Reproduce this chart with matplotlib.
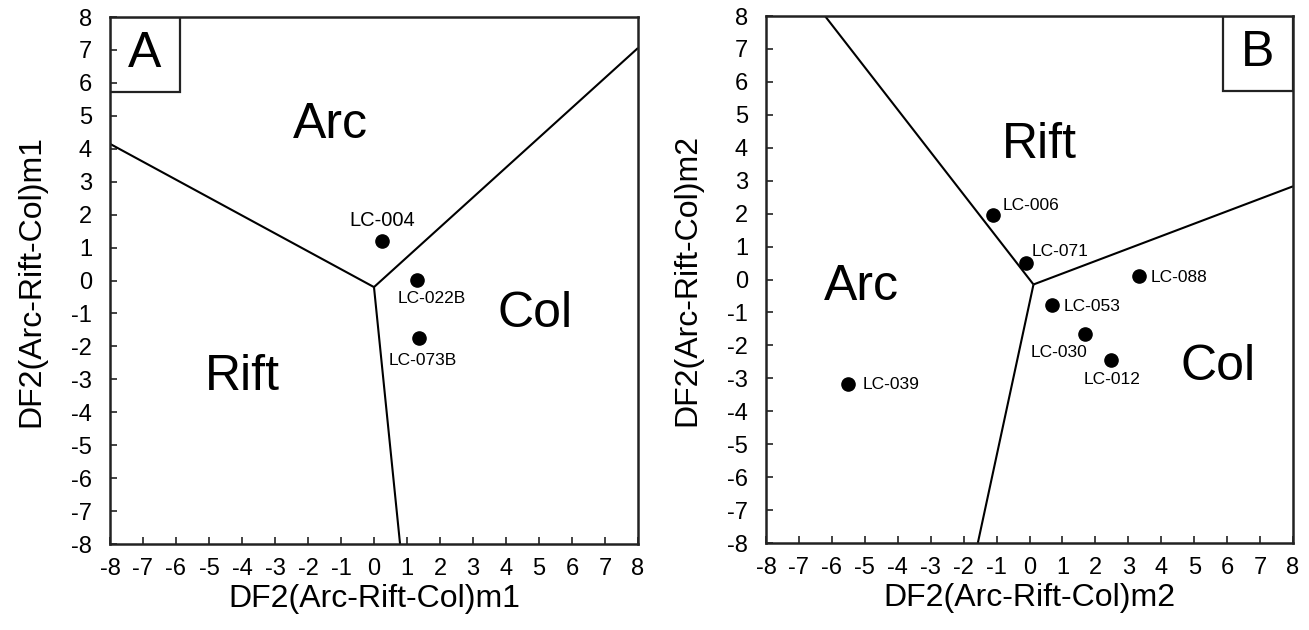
import matplotlib
matplotlib.use("Agg")
import matplotlib.pyplot as plt
from matplotlib.patches import Rectangle

plt.rcParams['font.family'] = ['Liberation Sans', 'DejaVu Sans']
plt.rcParams['axes.unicode_minus'] = False

# Panel A: field boundaries (junction first, then the three ends)
a_junction = (0.0, -0.2)
a_ends_x = [-8.0, 8.0, 0.79]
a_ends_y = [4.15, 7.06, -8.0]
a_samples = ['LC-004', 'LC-022B', 'LC-073B']
a_x = [0.24, 1.30, 1.36]
a_y = [1.21, 0.03, -1.76]
a_fields = ['Arc', 'Rift', 'Col']
a_field_x = [-1.33, -4.0, 4.88]
a_field_y = [4.73, -2.94, -1.03]

# Panel B
b_junction = (0.12, -0.15)
b_ends_x = [-6.21, 8.0, -1.57]
b_ends_y = [8.0, 2.83, -8.0]
b_samples = ['LC-006', 'LC-071', 'LC-088', 'LC-053', 'LC-030', 'LC-012', 'LC-039']
b_x = [-1.11, -0.12, 3.31, 0.68, 1.67, 2.48, -5.51]
b_y = [1.95, 0.51, 0.11, -0.78, -1.65, -2.45, -3.16]
b_fields = ['Rift', 'Arc', 'Col']
b_field_x = [0.30, -5.09, 5.73]
b_field_y = [4.09, -0.24, -2.67]

# label placement (offset in points, alignment, size)
a_label_style = [((0, 14.5), 'center', 14.5), ((11, -14), 'center', 12.5), ((3, -16), 'center', 12.5)]
b_label_style = [((7, 7), 'left', 12.5), ((4.5, 8.3), 'left', 12.5), ((9, -1.5), 'left', 12.5),
                 ((8.6, -0.7), 'left', 12.5), ((-18.5, -13.7), 'center', 12.5),
                 ((0.4, -14), 'center', 12.5), ((10.8, -0.5), 'left', 12.5)]

fig = plt.figure(figsize=(13.09, 6.30), dpi=100)
ax_a = fig.add_axes([0.084, 0.1365, 0.4034, 0.8365])
ax_b = fig.add_axes([0.5852, 0.138, 0.4026, 0.8366])


def draw_panel(ax, letter, junction, ends_x, ends_y, names, xs, ys, styles,
               fields, fx, fy, label, box_x):
    for ex, ey in zip(ends_x, ends_y):
        ax.plot([junction[0], ex], [junction[1], ey], color='black', lw=1.5,
                solid_capstyle='butt', zorder=2)
    ax.plot(xs, ys, 'o', color='black', markersize=9.5, zorder=3)
    for name, x, y, (off, ha, size) in zip(names, xs, ys, styles):
        ax.annotate(name, (x, y), xytext=off, textcoords='offset points',
                    ha=ha, va='center', fontsize=size)
    for name, x, y in zip(fields, fx, fy):
        ax.text(x, y, name, ha='center', va='center', fontsize=36)

    ax.add_patch(Rectangle((box_x, 1 - 0.142), 0.133, 0.142, transform=ax.transAxes,
                           fill=False, ec='#222222', lw=1.6, zorder=4))
    ax.text(box_x + 0.0665, 1 - 0.071, letter, transform=ax.transAxes,
            ha='center', va='center', fontsize=36, zorder=5)

    ax.set_xlim(-8, 8)
    ax.set_ylim(-8, 8)
    ax.set_xticks(range(-8, 9))
    ax.set_yticks(range(-8, 9))
    ax.tick_params(direction='in', length=5, width=1.2, labelsize=17, colors='#222222')
    ax.tick_params(axis='x', pad=10, labelcolor='black')
    ax.tick_params(axis='y', pad=13, labelcolor='black')
    for s in ax.spines.values():
        s.set_linewidth(1.8)
        s.set_color('#222222')
    ax.set_xlabel(label, fontsize=23, labelpad=3)
    ax.set_ylabel(label, fontsize=23, labelpad=18)


draw_panel(ax_a, 'A', a_junction, a_ends_x, a_ends_y, a_samples, a_x, a_y, a_label_style,
           a_fields, a_field_x, a_field_y, 'DF2(Arc-Rift-Col)m1', 0.0)
draw_panel(ax_b, 'B', b_junction, b_ends_x, b_ends_y, b_samples, b_x, b_y, b_label_style,
           b_fields, b_field_x, b_field_y, 'DF2(Arc-Rift-Col)m2', 1 - 0.133)

fig.savefig('out.png', dpi=100)
